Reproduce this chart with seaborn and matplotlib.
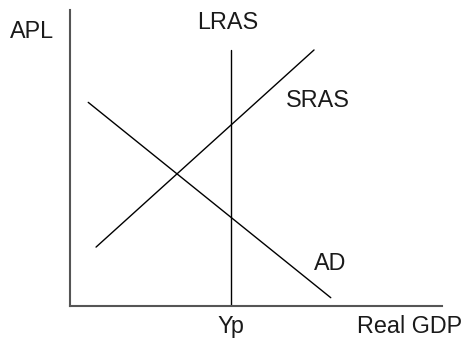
import matplotlib
matplotlib.use("Agg")
import matplotlib.pyplot as plt
import seaborn as sns
import pandas as pd

sns.set_theme(style="white")
plt.rcParams['font.family'] = ['Liberation Sans', 'DejaVu Sans']

# Curve data (Real GDP on x, price level on y), axis origin at (0, 0)
yp = 43.2
lras_x = [yp, yp]
lras_y = [0.0, 86.5]
sras_x = [7.0, 65.6]
sras_y = [19.9, 86.5]
ad_x = [4.9, 70.1]
ad_y = [68.8, 2.8]

df = pd.concat([
    pd.DataFrame({"gdp": lras_x, "apl": lras_y, "curve": "LRAS"}),
    pd.DataFrame({"gdp": sras_x, "apl": sras_y, "curve": "SRAS"}),
    pd.DataFrame({"gdp": ad_x, "apl": ad_y, "curve": "AD"}),
])

fig = plt.figure(figsize=(4.65, 3.4), dpi=100)
ax = fig.add_axes([70 / 465, 34 / 340, 372 / 465, 296 / 340])

sns.lineplot(data=df, x="gdp", y="apl", units="curve", estimator=None,
             color="black", linewidth=1.0, sort=False, ax=ax, legend=False)

ax.set_xlim(0, 100)
ax.set_ylim(0, 100)
ax.set_xticks([])
ax.set_yticks([])
ax.set_xlabel("")
ax.set_ylabel("")
for s in ["top", "right"]:
    ax.spines[s].set_visible(False)
for s in ["left", "bottom"]:
    ax.spines[s].set_color("#555555")
    ax.spines[s].set_linewidth(1.5)

fs = 16.8
kw = dict(fontsize=fs, color="#1a1a1a", ha="center", va="center", clip_on=False)
ax.text(-10.2, 92.9, "APL", **kw)
ax.text(42.5, 95.9, "LRAS", **kw)
ax.text(66.7, 69.3, "SRAS", **kw)
ax.text(69.9, 14.2, "AD", **kw)
ax.text(yp, -6.8, "Yp", **kw)
ax.text(91.4, -6.8, "Real GDP", **kw)

fig.savefig("out.png", dpi=100)
